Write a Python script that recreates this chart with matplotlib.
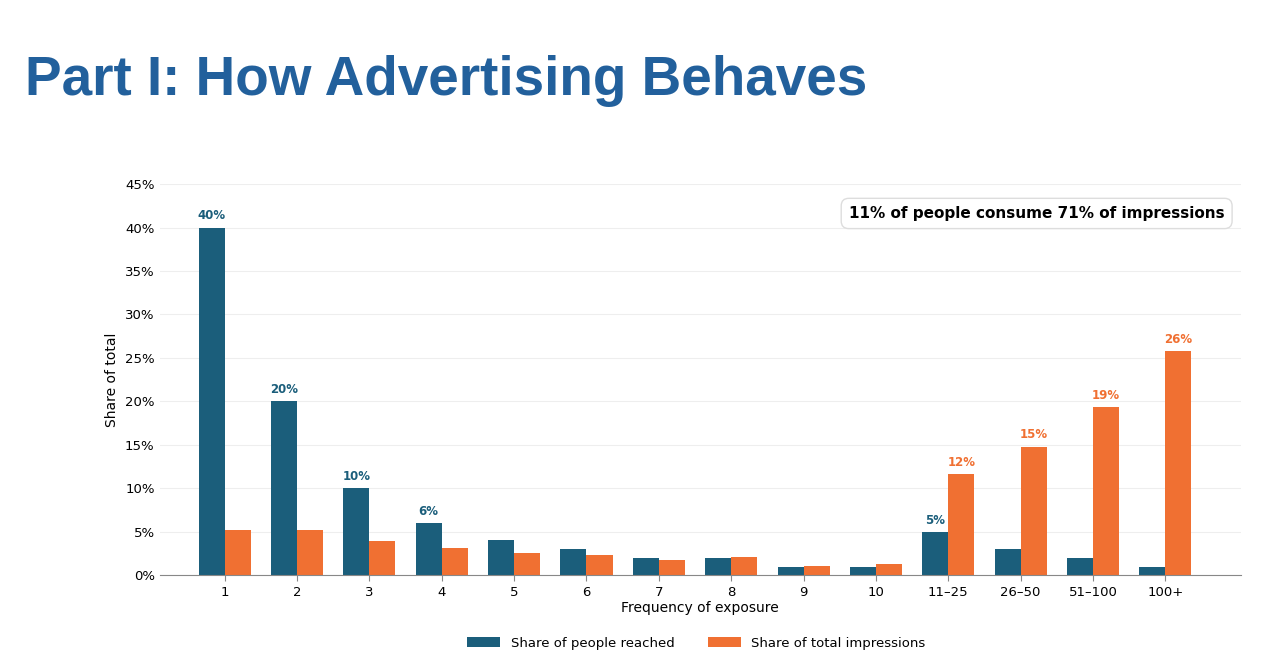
import matplotlib.pyplot as plt
import numpy as np

categories = ["1","2","3","4","5","6","7","8","9","10","11–25","26–50","51–100","100+"]
people = [40,20,10,6,4,3,2,2,1,1,5,3,2,1]
impressions = [5.2,5.2,3.9,3.1,2.6,2.3,1.8,2.1,1.1,1.3,11.6,14.8,19.3,25.8]
people_labels = {0:"40%",1:"20%",2:"10%",3:"6%",10:"5%"}
imp_labels = {10:"12%",11:"15%",12:"19%",13:"26%"}

blue = "#1b5e7b"
orange = "#f07032"

fig = plt.figure(figsize=(12.66,6.72), dpi=100)
fig.text(0.02, 0.88, "Part I: How Advertising Behaves", fontsize=39.5, fontweight="bold",
         color="#22609c", family="Liberation Sans", va="center")
ax = fig.add_axes([0.126, 0.144, 0.854, 0.582])
x = np.arange(len(categories))
w = 0.36
ax.bar(x-w/2, people, w, color=blue, label="Share of people reached")
ax.bar(x+w/2, impressions, w, color=orange, label="Share of total impressions")
for i,t in people_labels.items():
    ax.text(x[i]-w/2, people[i]+0.6, t, ha="center", va="bottom", fontsize=8.5, fontweight="bold", color=blue)
for i,t in imp_labels.items():
    ax.text(x[i]+w/2, impressions[i]+0.6, t, ha="center", va="bottom", fontsize=8.5, fontweight="bold", color=orange)
ax.set_ylim(0,45)
ax.set_xlim(-0.9, 14.04)
ax.set_yticks(range(0,46,5))
ax.set_yticklabels([f"{v}%" for v in range(0,46,5)], fontsize=9.5)
ax.set_xticks(x)
ax.set_xticklabels(categories, fontsize=9.5)
ax.yaxis.grid(True, color="#eeeeee", lw=0.8)
ax.set_axisbelow(True)
for s in ["top","right","left"]:
    ax.spines[s].set_visible(False)
ax.spines["bottom"].set_color("#888888")
ax.tick_params(axis="y", length=0)
ax.tick_params(axis="x", length=4, color="#888888")
ax.set_ylabel("Share of total", fontsize=10)
ax.set_xlabel("Frequency of exposure", fontsize=10, labelpad=2)
ax.text(0.985, 0.925, "11% of people consume 71% of impressions", transform=ax.transAxes,
        ha="right", va="center", fontsize=11, fontweight="bold",
        bbox=dict(boxstyle="round,pad=0.5", fc="white", ec="#dddddd"))
fig.legend(loc="center", bbox_to_anchor=(0.55, 0.043), ncol=2, frameon=False, fontsize=9.5,
           handlelength=2.5, columnspacing=2.5)
fig.savefig("out.png")
